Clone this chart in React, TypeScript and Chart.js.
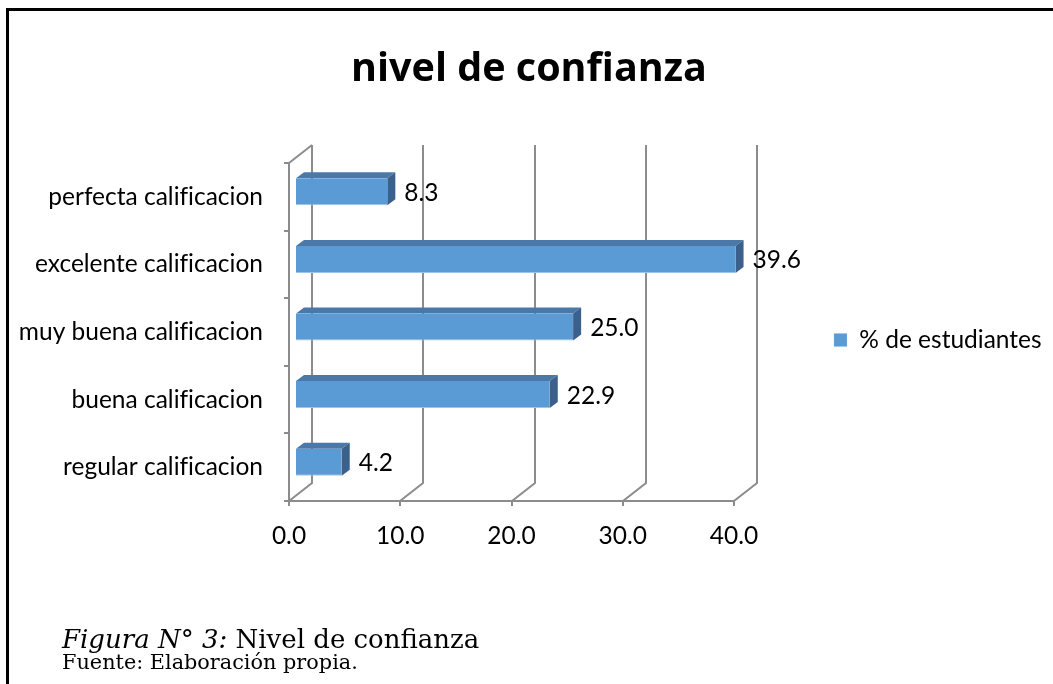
import React, { useEffect, useRef } from "react";
import { Chart, registerables } from "chart.js";

Chart.register(...registerables);

// ---- data ----
const categories = [
  "perfecta calificacion",
  "excelente calificacion",
  "muy buena calificacion",
  "buena calificacion",
  "regular calificacion",
];
const seriesName = "% de estudiantes";
const values = [8.3, 39.6, 25.0, 22.9, 4.2];
const xTickValues = [0, 10, 20, 30, 40];
const chartTitle = "nivel de confianza";
const captionLead = "Figura N° 3:";
const captionText = " Nivel de confianza";
const sourceText = "Fuente: Elaboración propia.";

// ---- styling ----
const FONT = "Lato";
const FS = 24.5;
const GRID = "#8c8c8c";
const FRONT = "#5b9bd5";
const TOP = "#4a78a8";
const SIDE = "#3a608b";
const WALL_DX = 23;
const WALL_DY = 18;
const BAR_SHIFT_X = 6;
const BAR_SHIFT_Y = -5;
const BAR_DX = 8;
const BAR_DY = 6;
const W = 1053;
const H = 684;
const PLOT_LEFT = 289;
const PLOT_RIGHT = 734;
const PLOT_TOP = 163;
const PLOT_BOTTOM = 501;
const X_AXIS_H = 50;
const LEG_PAD = 100;
const LEG_BOX = 13;

const noLigatures = {
  id: "noLigatures",
  beforeUpdate(chart: any) {
    try {
      chart.ctx.textRendering = "optimizeSpeed";
    } catch (e) {}
  },
  beforeDraw(chart: any) {
    try {
      chart.ctx.textRendering = "optimizeSpeed";
    } catch (e) {}
  },
};

const threeD = {
  id: "threeD",
  beforeDatasetsDraw(chart: any) {
    const { ctx, chartArea, scales } = chart;
    const xs = scales.x;
    ctx.save();
    ctx.strokeStyle = GRID;
    ctx.lineWidth = 2;
    xTickValues.forEach((v) => {
      const px = Math.round(xs.getPixelForValue(v));
      ctx.beginPath();
      ctx.moveTo(px, chartArea.bottom);
      ctx.lineTo(px + WALL_DX, chartArea.bottom - WALL_DY);
      ctx.lineTo(px + WALL_DX, chartArea.top - WALL_DY);
      ctx.stroke();
    });
    ctx.beginPath();
    ctx.moveTo(chartArea.left, chartArea.top);
    ctx.lineTo(chartArea.left + WALL_DX, chartArea.top - WALL_DY);
    ctx.stroke();
    ctx.restore();
    ctx.save();
    ctx.translate(BAR_SHIFT_X, BAR_SHIFT_Y);
  },
  afterDatasetsDraw(chart: any) {
    const { ctx } = chart;
    ctx.restore();
    const meta = chart.getDatasetMeta(0);
    ctx.save();
    ctx.translate(BAR_SHIFT_X, BAR_SHIFT_Y);
    meta.data.forEach((el: any, i: number) => {
      const { x, y, base, height } = el.getProps(["x", "y", "base", "height"], true);
      const top = y - height / 2;
      const bot = y + height / 2;
      // top face
      ctx.fillStyle = TOP;
      ctx.beginPath();
      ctx.moveTo(base, top);
      ctx.lineTo(base + BAR_DX, top - BAR_DY);
      ctx.lineTo(x + BAR_DX, top - BAR_DY);
      ctx.lineTo(x, top);
      ctx.closePath();
      ctx.fill();
      // side face
      ctx.fillStyle = SIDE;
      ctx.beginPath();
      ctx.moveTo(x, top);
      ctx.lineTo(x + BAR_DX, top - BAR_DY);
      ctx.lineTo(x + BAR_DX, bot - BAR_DY);
      ctx.lineTo(x, bot);
      ctx.closePath();
      ctx.fill();
      // value label
      ctx.fillStyle = "#000";
      ctx.font = `${FS}px ${FONT}`;
      ctx.textAlign = "left";
      ctx.textBaseline = "middle";
      ctx.fillText(values[i].toFixed(1), x + BAR_DX + 9, y + 1);
    });
    ctx.restore();
  },
};

export default function App() {
  const ref = useRef<HTMLCanvasElement | null>(null);

  useEffect(() => {
    const canvas = ref.current;
    if (!canvas) return;
    const m = document.createElement("canvas").getContext("2d")! as any;
    try {
      m.textRendering = "optimizeSpeed";
    } catch (e) {}
    m.font = `${FS}px ${FONT}`;
    const textW = m.measureText(seriesName).width;
    const legendNatural = LEG_PAD + LEG_BOX + FS / 2 + textW + 10;
    const legendW = W - PLOT_RIGHT;
    const rightPad = Math.max(0, legendW - legendNatural);

    const chart = new Chart(canvas, {
      type: "bar",
      data: {
        labels: categories,
        datasets: [
          {
            label: seriesName,
            data: values,
            backgroundColor: FRONT,
            borderColor: "#9dc3e6",
            borderWidth: { top: 0, left: 0, right: 0, bottom: 1 },
            borderSkipped: false,
            barPercentage: 0.4,
            categoryPercentage: 1,
          },
        ],
      },
      options: {
        indexAxis: "y",
        responsive: false,
        animation: false,
        devicePixelRatio: 1,
        layout: {
          padding: {
            left: 0,
            top: PLOT_TOP,
            right: rightPad,
            bottom: H - PLOT_BOTTOM - X_AXIS_H,
          },
        },
        plugins: {
          title: { display: false },
          tooltip: { enabled: false },
          legend: {
            display: true,
            position: "right",
            fullSize: false,
            maxWidth: legendW,
            title: {
              display: true,
              text: "",
              font: { size: 1 },
              padding: { top: 15, bottom: 0 },
            },
            labels: {
              boxWidth: LEG_BOX,
              boxHeight: LEG_BOX,
              padding: LEG_PAD,
              color: "#000",
              font: { family: FONT, size: FS },
            },
          },
        },
        scales: {
          x: {
            type: "linear",
            min: 0,
            max: 40,
            afterFit: (s: any) => {
              s.height = X_AXIS_H;
            },
            afterBuildTicks: (s: any) => {
              s.ticks = xTickValues.map((v) => ({ value: v }));
            },
            grid: {
              drawOnChartArea: false,
              drawTicks: true,
              tickLength: 5,
              color: GRID,
              lineWidth: 2,
            },
            border: { display: true, color: GRID, width: 2 },
            ticks: {
              color: "#000",
              padding: 15,
              font: { family: FONT, size: FS },
              callback: (v: any) => Number(v).toFixed(1),
            },
          },
          y: {
            type: "category",
            afterFit: (s: any) => {
              s.width = PLOT_LEFT;
            },
            grid: {
              offset: true,
              drawOnChartArea: false,
              drawTicks: true,
              tickLength: 5,
              color: GRID,
              lineWidth: 2,
            },
            border: { display: true, color: GRID, width: 2 },
            ticks: {
              color: "#000",
              padding: 21,
              font: { family: FONT, size: FS },
            },
          },
        },
      },
      plugins: [noLigatures, threeD],
    } as any);
    return () => chart.destroy();
  }, []);

  return (
    <div
      style={{
        position: "fixed",
        left: 0,
        top: 0,
        width: W,
        height: H,
        overflow: "hidden",
        background: "#fff",
      }}
    >
      <div
        style={{
          position: "absolute",
          left: 6,
          top: 8,
          width: W + 20,
          height: H + 20,
          borderTop: "3px solid #000",
          borderLeft: "3px solid #000",
          boxSizing: "border-box",
        }}
      />
      <canvas
        ref={ref}
        width={W}
        height={H}
        style={{ position: "absolute", left: 0, top: 0, display: "block" }}
      />
      <div
        style={{
          position: "absolute",
          left: 0,
          top: 43,
          width: 1058,
          textAlign: "center",
          fontFamily: "'Open Sans', sans-serif",
          fontWeight: 700,
          fontSize: 39.5,
          lineHeight: 1.2,
          color: "#000",
          fontVariantLigatures: "none",
        }}
      >
        {chartTitle}
      </div>
      <div
        style={{
          position: "absolute",
          left: 62,
          top: 626,
          fontFamily: "'DejaVu Serif', serif",
          fontSize: 26,
          lineHeight: 1,
          whiteSpace: "nowrap",
          color: "#000",
        }}
      >
        <i>{captionLead}</i>
        {captionText}
      </div>
      <div
        style={{
          position: "absolute",
          left: 62,
          top: 652,
          fontFamily: "'DejaVu Serif', serif",
          fontSize: 20.8,
          lineHeight: 1,
          whiteSpace: "nowrap",
          color: "#000",
        }}
      >
        {sourceText}
      </div>
    </div>
  );
}
